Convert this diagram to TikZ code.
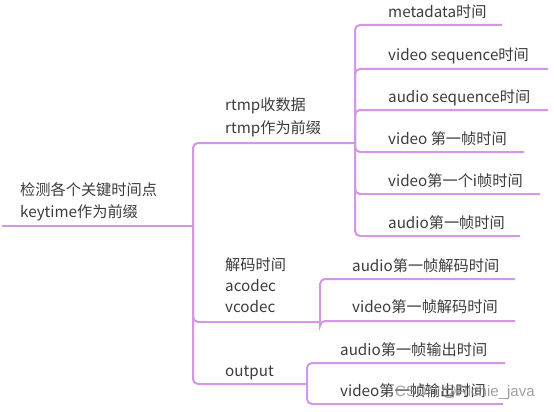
\documentclass[tikz,border=0pt]{standalone}
\usepackage{fontspec}
\setmainfont{Noto Sans CJK SC}
\newfontfamily\wmfont{Liberation Sans}
\definecolor{lc}{RGB}{214,150,232}
\definecolor{tc}{RGB}{60,60,60}
\begin{document}
\begin{tikzpicture}[x=1pt,y=-1pt,
  conn/.style={draw=lc, line width=2pt, rounded corners=5pt},
  lbl/.style={anchor=base west, inner sep=0pt, text=tc, font=\fontsize{15.2}{20}\selectfont}]
\useasboundingbox[fill=white] (0,0) rectangle (554,412);
% root
\node[lbl] (root1) at (20,195) {检测各个关键时间点};
\node[lbl] (root2) at (20,217) {keytime作为前缀};
\coordinate (rootS) at (2,226);
\coordinate (rootE) at (193,226);
% level 1
\node[lbl] (rtmp1) at (225,110) {rtmp收数据};
\node[lbl] (rtmp2) at (225,133) {rtmp作为前缀};
\coordinate (rtmpE) at (355,143);
\node[lbl] (dec1) at (225,270) {解码时间};
\node[lbl] (dec2) at (225,291) {acodec};
\node[lbl] (dec3) at (225,312) {vcodec};
\coordinate (decE) at (320,322);
\node[lbl] (out1) at (225,376) {output};
\coordinate (outE) at (307,384);
% rtmp children
\node[lbl] (m1) at (388,18) {metadata时间};
\coordinate (m1E) at (502,25);
\node[lbl] (m2) at (388,61) {video sequence时间};
\coordinate (m2E) at (548,69);
\node[lbl] (m3) at (388,102) {audio sequence时间};
\coordinate (m3E) at (548,110);
\node[lbl] (m4) at (388,144) {video 第一帧时间};
\coordinate (m4E) at (524,152);
\node[lbl] (m5) at (388,186) {video第一个i帧时间};
\coordinate (m5E) at (540,194);
\node[lbl] (m6) at (388,228) {audio第一帧时间};
\coordinate (m6E) at (520,236);
% decode children
\node[lbl] (d1) at (352,271) {audio第一帧解码时间};
\coordinate (d1E) at (515,279);
\node[lbl] (d2) at (352,312) {video第一帧解码时间};
\coordinate (d2E) at (515,321);
% output children
\node[lbl] (o1) at (340,355) {audio第一帧输出时间};
\coordinate (o1E) at (505,363);
\node[lbl] (o2) at (340,396) {video第一帧输出时间};
\coordinate (o2E) at (503,404);
% connectors
\draw[conn] (rootS) -- (rootE);
\draw[conn] (rootE) |- (rtmpE);
\draw[conn] (rootE) |- (decE);
\draw[conn] (rootE) |- (outE);
\foreach \c in {m1E,m2E,m3E,m4E,m5E,m6E} \draw[conn] (rtmpE) |- (\c);
\foreach \c in {d1E,d2E} \draw[conn] (decE) |- (\c);
\foreach \c in {o1E,o2E} \draw[conn] (outE) |- (\c);
% watermark
\node[anchor=base west, inner sep=0pt, text=gray, opacity=0.75, font=\wmfont\fontsize{15}{18}\selectfont] (wm) at (395,396) {CSDN @Richie\_java};
\end{tikzpicture}
\end{document}
